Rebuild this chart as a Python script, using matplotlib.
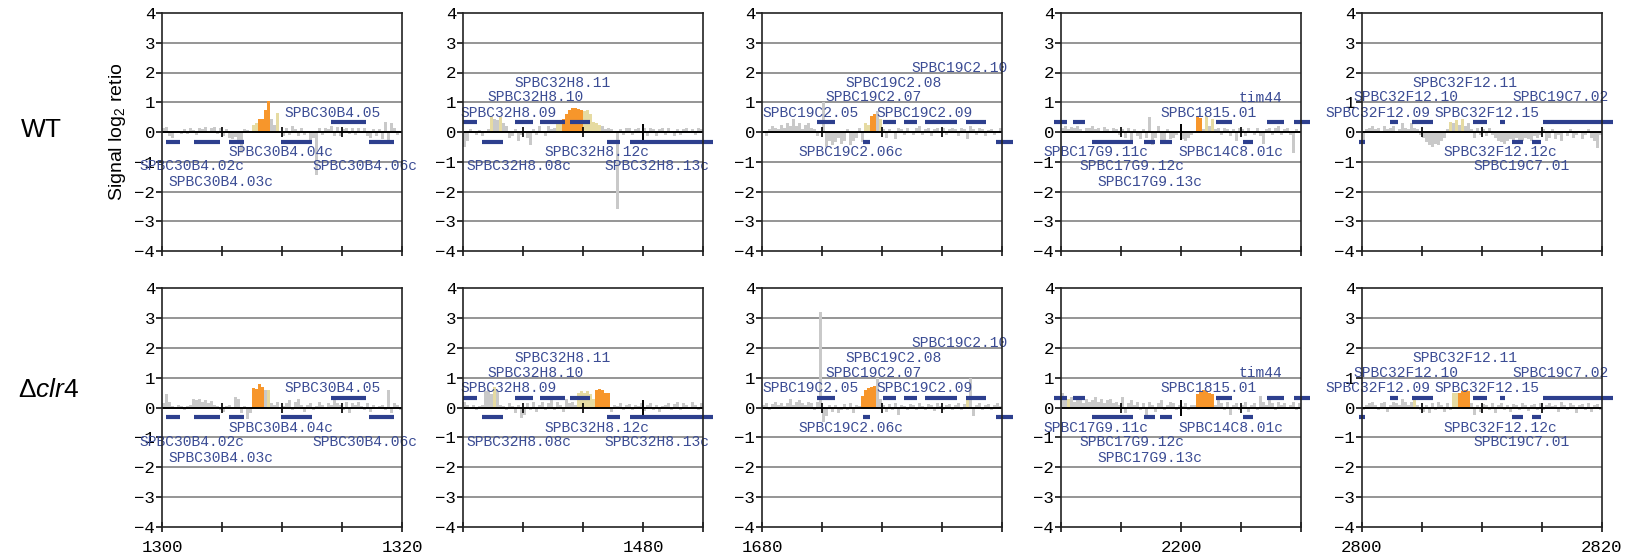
import matplotlib
matplotlib.use('Agg')
import matplotlib.pyplot as plt
import numpy as np

plt.rcParams['mathtext.fontset'] = 'custom'
plt.rcParams['mathtext.rm'] = 'Liberation Sans'
plt.rcParams['mathtext.it'] = 'Liberation Sans:italic'

# ---------------- data ----------------
panel_starts = [1300, 1465, 1680, 2190, 2800]   # kb
panel_span = 20
bin_kb = 0.25
tick_step = 5
tick_labels = [[1300, 1320], [1480], [1680], [2200], [2800, 2820]]
row_names = ['WT', r'$\Delta\mathit{clr4}$']

# signal log2 ratio, one value per 0.25 kb bin
wt_p1 = [0.15, 0.18, -0.12, -0.2, -0.05, 0.05, -0.08, 0.1, -0.06, 0.12, 0.08, -0.1,
         0.15, 0.1, 0.18, -0.05, 0.12, 0.16, -0.08, 0.14, -0.15, 0.1, -0.2, -0.25,
         -0.18, -0.3, -0.72, 0.1, 0.08, 0.05, 0.22, 0.3, 0.45, 0.45, 0.75, 1.05,
         0.45, 0.25, 0.65, -0.05, -0.15, 0.12, -0.1, 0.2, 0.1, -0.12, 0.15, -0.1,
         0.05, -0.35, -0.2, -1.45, 0.12, -0.1, 0.15, 0.1, 0.2, -0.15, 0.18, -0.12,
         0.1, 0.12, -0.08, 0.15, -0.1, 0.15, -0.05, 0.12, -0.12, -0.2, 0.1, -0.15,
         0.1, -0.25, 0.35, -0.3, 0.3, 0.15, -0.1, 0.05]
wt_p2 = [-0.5, -0.3, 0.1, 0.05, -0.1, 0.08, -0.15, 0.05, 0.1, 0.5, 0.45, 0.4,
         0.5, 0.3, 0.2, -0.2, -0.15, 0.1, -0.3, -0.1, 0.05, -0.2, -0.45, 0.1,
         -0.1, 0.2, 0.05, -0.15, 0.2, 0.1, 0.15, 0.3, 0.3, 0.45, 0.6, 0.75,
         0.8, 0.8, 0.78, 0.75, 0.7, 0.75, 0.6, 0.35, 0.3, 0.25, 0.2, 0.1,
         0.15, 0.1, 0.05, -2.6, 0.1, -0.1, 0.12, 0.15, -0.1, 0.1, 0.15, 0.05,
         0.12, -0.12, 0.15, 0.1, -0.15, 0.1, 0.15, -0.1, 0.15, 0.05, -0.12, 0.1,
         -0.1, 0.1, 0.15, -0.05, 0.1, -0.1, 0.12, 0.1]
wt_p3 = [0.05, -0.15, 0.1, 0.2, 0.15, 0.1, 0.25, 0.15, 0.3, 0.2, 0.45, 0.2,
         0.3, 0.1, 0.25, 0.3, 0.15, 0.1, -0.15, 0.05, 1.0, -0.5, -0.3, -0.45,
         -0.35, -0.2, -0.4, -0.3, 0.1, -0.45, -0.3, -0.2, 0.15, -0.35, 0.3, 0.25,
         0.55, 0.6, 0.7, 0.45, 0.1, -0.2, 0.1, 0.05, -0.25, 0.15, 0.1, -0.1,
         0.15, 0.05, -0.1, 0.12, 0.2, -0.1, 0.1, 0.15, -0.12, 0.1, 0.15, 0.05,
         0.12, -0.1, 0.1, 0.15, 0.1, -0.15, 0.12, 0.1, -0.25, 0.2, 0.1, -0.1,
         0.15, 0.1, -0.12, 0.08, 0.1, -0.1, 0.05, 0.12]
wt_p4 = [0.15, 0.2, 0.1, 0.18, 0.12, 0.2, 0.1, -0.05, 0.15, 0.12, 0.2, 0.1,
         0.15, 0.05, 0.18, 0.1, -0.05, 0.15, 0.1, -0.1, 0.1, -0.2, 0.15, -0.3,
         0.1, -0.15, -0.25, 0.1, -0.2, 0.5, -0.45, -0.2, 0.2, -0.35, -0.3, 0.1,
         -0.25, -0.2, -0.1, 0.05, -0.25, -0.3, -0.2, -0.1, -0.05, 0.5, 0.48, 0.1,
         0.55, 0.2, 0.45, 0.1, 0.15, -0.1, 0.12, 0.1, -0.15, 0.1, -0.3, 0.15,
         0.1, -0.12, 0.15, 0.05, -0.1, 0.12, -0.15, -0.4, 0.1, 0.15, -0.1, 0.12,
         0.2, -0.1, 0.1, 0.15, -0.1, -0.7, 0.1, 0.05]
wt_p5 = [-0.3, 0.1, 0.15, 0.2, 0.1, 0.15, 0.05, 0.2, 0.1, 0.15, 0.2, 0.05,
         0.1, 0.3, 0.15, 0.1, 0.3, 0.15, 0.1, -0.1, -0.2, -0.35, -0.45, -0.5,
         -0.4, -0.45, -0.3, -0.2, 0.1, 0.35, 0.3, 0.4, 0.25, 0.45, 0.2, 0.3,
         0.1, -0.2, 0.15, -0.1, 0.1, -0.15, 0.12, -0.1, -0.2, -0.3, -0.35, -0.4,
         -0.3, -0.25, -0.3, -0.2, -0.35, -0.3, -0.2, -0.25, -0.3, -0.15, -0.2, -0.1,
         0.1, -0.3, -0.2, 0.1, -0.25, -0.1, -0.3, 0.05, -0.15, 0.1, -0.2, -0.1,
         0.05, -0.25, -0.1, 0.1, -0.2, -0.3, -0.55, -0.1]

ko_p1 = [0.15, 0.45, 0.2, 0.05, -0.05, 0.08, 0.05, -0.08, 0.05, 0.08, 0.3, 0.25,
         0.28, 0.2, 0.25, 0.15, 0.22, 0.1, 0.05, -0.1, -0.15, 0.05, 0.08, -0.05,
         0.35, 0.3, -0.2, 0.05, -0.4, -0.2, 0.65, 0.62, 0.78, 0.7, 0.6, 0.6,
         0.15, 0.1, 0.2, -0.05, 0.05, 0.15, 0.25, -0.1, 0.2, 0.3, 0.1, -0.15,
         0.1, 0.15, -0.1, 0.05, 0.2, 0.1, -0.05, 0.15, 0.1, 0.25, 0.15, 0.1,
         -0.1, 0.2, -0.2, 0.15, 0.1, 0.2, 0.05, -0.1, 0.15, -0.15, 0.1, -0.05,
         0.05, 0.1, -0.1, 0.6, -0.2, 0.15, 0.1, -0.1]
ko_p2 = [0.2, 0.1, -0.05, 0.08, -0.1, 0.05, 0.1, 0.55, 0.6, 0.45, 0.7, 0.55,
         0.1, 0.05, -0.1, 0.15, 0.05, -0.2, 0.1, -0.35, -0.25, 0.15, -0.1, 0.2,
         -0.15, 0.1, 0.2, -0.1, 0.15, 0.25, -0.1, 0.2, 0.1, -0.15, 0.3, 0.15,
         0.2, 0.1, 0.5, 0.55, 0.5, 0.55, 0.45, 0.3, 0.6, 0.62, 0.58, 0.5,
         0.5, -0.15, 0.1, 0.05, 0.15, -0.1, 0.1, 0.12, -0.1, 0.1, 0.05, 0.15,
         -0.12, 0.1, 0.15, -0.1, 0.1, -0.15, 0.05, 0.1, 0.15, -0.1, 0.12, 0.2,
         -0.1, 0.15, 0.1, -0.05, 0.2, 0.1, -0.1, 0.15]
ko_p3 = [0.1, 0.15, -0.1, 0.12, 0.2, 0.1, 0.15, 0.05, 0.15, 0.3, 0.1, 0.2,
         0.25, 0.15, 0.1, 0.2, 0.15, -0.1, 0.2, 3.2, -0.5, -0.3, 0.1, -0.15,
         0.1, -0.2, -0.1, 0.12, -0.1, 0.15, -0.2, 0.1, 0.05, 0.4, 0.6, 0.65,
         0.7, 0.72, 1.0, 0.3, 0.1, -0.15, 0.12, -0.1, 0.15, -0.25, 0.1, 0.05,
         -0.1, 0.12, 0.1, -0.1, 0.15, 0.05, -0.1, 0.12, 0.1, -0.12, 0.15, 0.05,
         -0.1, 0.1, 0.12, -0.08, 0.1, 0.15, -0.1, 0.12, 0.3, 1.0, -0.3, 0.1,
         0.15, -0.1, 0.1, 0.12, -0.1, 0.1, 0.15, 0.05]
ko_p4 = [0.5, 0.35, 0.3, 0.35, 0.2, 0.3, 0.25, 0.15, 0.3, 0.2, 0.25, 0.35,
         0.2, 0.3, 0.15, 0.25, 0.3, 0.15, 0.2, 0.1, 0.35, -0.2, 0.15, 0.25,
         0.1, 0.2, -0.1, 0.15, -0.25, 0.2, 0.1, -0.15, 0.15, 0.25, -0.1, 0.1,
         0.2, 0.15, -0.1, 0.1, 0.05, 0.15, -0.1, 0.1, 0.1, 0.45, 0.55, 0.6,
         0.55, 0.5, 0.45, 0.1, 0.3, 0.15, -0.1, 0.2, -0.25, 0.1, 0.15, -0.1,
         0.1, 0.2, -0.15, 0.1, 0.15, -0.1, 0.4, 0.2, 0.1, 0.3, 0.15, -0.1,
         0.2, 0.1, 0.15, -0.05, 0.1, 0.2, -0.1, 0.15]
ko_p5 = [-0.1, 0.1, 0.15, 0.2, 0.1, -0.1, 0.15, 0.2, -0.15, 0.1, 0.2, 0.15,
         0.1, 0.3, 0.2, 0.1, 0.2, 0.4, 0.1, -0.1, -0.15, 0.1, -0.2, 0.15,
         -0.1, 0.2, 0.1, -0.15, 0.15, -0.1, 0.5, 0.5, 0.5, 0.55, 0.6, 0.55,
         0.15, -0.25, 0.1, -0.15, 0.12, 0.1, -0.1, 0.15, -0.2, 0.1, 0.15, -0.1,
         0.1, -0.15, 0.12, 0.1, -0.1, 0.15, 0.1, -0.12, 0.1, 0.12, -0.1, 0.15,
         -0.1, 0.1, 0.15, 0.05, 0.1, -0.15, 0.2, 0.1, -0.1, 0.15, 0.1, -0.2,
         0.1, 0.12, -0.1, 0.15, -0.15, 0.1, 0.12, -0.1]

wt_signal = [wt_p1, wt_p2, wt_p3, wt_p4, wt_p5]
ko_signal = [ko_p1, ko_p2, ko_p3, ko_p4, ko_p5]

# highlighted (enriched) regions, absolute kb
wt_orange = [[(1308.0, 1309.0)], [(1473.25, 1475.0)], [(1689.0, 1689.5)],
             [(2201.25, 2201.75)], []]
wt_khaki = [[(1307.5, 1308.0), (1309.5, 1309.75)],
            [(1467.25, 1467.5), (1468.0, 1468.25), (1472.75, 1473.25), (1475.0, 1476.5)],
            [(1688.5, 1689.0), (1689.75, 1690.0)],
            [(2202.0, 2202.25), (2202.5, 2202.75)],
            [(2807.25, 2807.5), (2807.75, 2808.0), (2808.25, 2808.5)]]
ko_orange = [[(1307.5, 1308.5)], [(1476.0, 1477.25)], [(1688.25, 1689.5)],
             [(2201.25, 2202.75)], [(2808.0, 2809.0)]]
ko_khaki = [[(1308.75, 1309.0)],
            [(1467.5, 1467.75), (1474.5, 1476.0)],
            [(1697.0, 1697.25)],
            [(2190.5, 2190.75)],
            [(2804.25, 2804.5), (2807.5, 2808.0)]]

# genes: (start, end) in kb
genes_fwd = [[(1314.1, 1317.0)],
             [(1465.0, 1466.15), (1469.35, 1470.85), (1471.4, 1473.5), (1473.9, 1475.6)],
             [(1684.6, 1686.1), (1690.1, 1691.2), (1691.8, 1692.9), (1693.6, 1696.25), (1697.0, 1698.7)],
             [(2189.4, 2190.5), (2191.0, 2192.0), (2202.9, 2204.25), (2207.2, 2208.6), (2209.4, 2210.75)],
             [(2802.3, 2803.0), (2804.2, 2805.9), (2809.25, 2810.4), (2811.5, 2811.9), (2815.1, 2820.9)]]
genes_rev = [[(1300.3, 1301.5), (1302.7, 1304.8), (1305.6, 1306.8), (1309.9, 1312.5), (1317.25, 1319.3)],
             [(1466.55, 1468.35), (1477.0, 1478.1), (1478.9, 1485.8)],
             [(1688.4, 1689.0), (1699.5, 1700.9)],
             [(2192.6, 2196.0), (2196.9, 2197.8), (2198.25, 2199.25), (2205.2, 2206.0)],
             [(2799.75, 2800.25), (2812.5, 2813.4), (2814.2, 2814.9)]]

# gene labels: (name, left kb, y)
gene_labels = [
    [("SPBC30B4.05", 1310.17, 0.65), ("SPBC30B4.04c", 1305.5, -0.67),
     ("SPBC30B4.02c", 1298.1, -1.15), ("SPBC30B4.03c", 1300.5, -1.69),
     ("SPBC30B4.06c", 1312.5, -1.15)],
    [("SPBC32H8.11", 1469.33, 1.65), ("SPBC32H8.10", 1467.08, 1.16),
     ("SPBC32H8.09", 1464.75, 0.64), ("SPBC32H8.12c", 1471.75, -0.67),
     ("SPBC32H8.08c", 1465.33, -1.15), ("SPBC32H8.13c", 1476.75, -1.15)],
    [("SPBC19C2.10", 1692.42, 2.16), ("SPBC19C2.08", 1686.92, 1.65),
     ("SPBC19C2.07", 1685.33, 1.16), ("SPBC19C2.05", 1680.0, 0.64),
     ("SPBC19C2.09", 1689.58, 0.64), ("SPBC19C2.06c", 1683.0, -0.67)],
    [("tim44", 2204.83, 1.15), ("SPBC1815.01", 2198.25, 0.64),
     ("SPBC17G9.11c", 2188.58, -0.67), ("SPBC14C8.01c", 2199.75, -0.67),
     ("SPBC17G9.12c", 2191.58, -1.15), ("SPBC17G9.13c", 2193.0, -1.69)],
    [("SPBC32F12.11", 2804.17, 1.65), ("SPBC32F12.10", 2799.33, 1.16),
     ("SPBC32F12.09", 2796.92, 0.64), ("SPBC32F12.15", 2806.0, 0.64),
     ("SPBC19C7.02", 2812.58, 1.16), ("SPBC32F12.12c", 2806.75, -0.67),
     ("SPBC19C7.01", 2809.25, -1.15)],
]

# ---------------- styling ----------------
W, H = 1637, 558
C_GRAY = '#c9c9c9'
C_ORANGE = '#f7962b'
C_KHAKI = '#e6dba2'
C_GENE = '#2d3f8e'
C_TEXT = '#3b4c94'
C_GRID = '#8c8c8c'
TICK_FONT = 'Liberation Mono'

fig = plt.figure(figsize=(W / 100, H / 100), dpi=100)

lefts_px = [162, 463, 762, 1061, 1362]
width_px = 240
rows_px = [(13, 251), (288, 527)]


def bar_colors(xs, orange, khaki):
    cols = []
    for x in xs:
        c = C_GRAY
        for a, b in khaki:
            if a <= x < b:
                c = C_KHAKI
        for a, b in orange:
            if a <= x < b:
                c = C_ORANGE
        cols.append(c)
    return cols


for r, (top, bot) in enumerate(rows_px):
    signals = wt_signal if r == 0 else ko_signal
    oranges = wt_orange if r == 0 else ko_orange
    khakis = wt_khaki if r == 0 else ko_khaki
    for p in range(5):
        ax = fig.add_axes([lefts_px[p] / W, 1 - bot / H, width_px / W, (bot - top) / H])
        start = panel_starts[p]
        vals = np.array(signals[p])
        xs = start + (np.arange(len(vals)) + 0.5) * bin_kb
        ax.bar(xs, vals, width=bin_kb, color=bar_colors(xs, oranges[p], khakis[p]),
               linewidth=0, zorder=2)
        ax.set_xlim(start, start + panel_span)
        ax.set_ylim(-4, 4)
        for yv in [-3, -2, -1, 1, 2, 3]:
            ax.axhline(yv, color=C_GRID, lw=1.3, zorder=0.5)
        ax.axhline(0, color='black', lw=1.4, zorder=3)
        inner = np.arange(start + tick_step, start + panel_span, tick_step)
        small = [t for t in inner if t not in tick_labels[p]]
        big = [t for t in inner if t in tick_labels[p]]
        ax.plot(small, np.zeros(len(small)), ls='none', marker='|', ms=7, mew=1.2,
                color='black', zorder=3)
        if big:
            ax.plot(big, np.zeros(len(big)), ls='none', marker='|', ms=12, mew=1.4,
                    color='black', zorder=3)
        for a, b in genes_fwd[p]:
            ax.plot([a, b], [0.32, 0.32], color=C_GENE, lw=3, solid_capstyle='butt',
                    clip_on=False, zorder=4)
        for a, b in genes_rev[p]:
            ax.plot([a, b], [-0.32, -0.32], color=C_GENE, lw=3, solid_capstyle='butt',
                    clip_on=False, zorder=4)
        for name, gx, gy in gene_labels[p]:
            ax.text(gx, gy, name, family='Liberation Mono', fontsize=10.5, color=C_TEXT,
                    ha='left', va='center', clip_on=False, zorder=5)
        xt = np.arange(start, start + panel_span + 0.01, tick_step)
        ax.set_xticks(xt)
        if r == 1:
            ax.set_xticklabels([str(int(t)) if int(t) in tick_labels[p] else '' for t in xt],
                               family=TICK_FONT, fontsize=12.5)
        else:
            ax.set_xticklabels([''] * len(xt))
        ax.tick_params(axis='x', direction='inout', length=7, width=1.1, pad=6)
        ax.set_yticks(range(-4, 5))
        ax.set_yticklabels([str(v).replace('-', '\u2212') for v in range(-4, 5)],
                           family=TICK_FONT, fontsize=12.5)
        ax.tick_params(axis='y', direction='out', length=4, width=1.1, pad=1)
        for s in ax.spines.values():
            s.set_linewidth(1.2)
            s.set_color('#222222')
            s.set_zorder(6)

fig.text(117 / W, 1 - 132 / H, r'Signal log$_2$ retio', rotation=90, ha='center',
         va='center', fontsize=14, family='Liberation Sans')
fig.text(41 / W, 1 - 130 / H, row_names[0], ha='center', va='center', fontsize=19,
         family='Liberation Sans')
fig.text(49 / W, 1 - 390 / H, row_names[1], ha='center', va='center', fontsize=19,
         family='Liberation Sans')

fig.savefig('out.png', dpi=100)
